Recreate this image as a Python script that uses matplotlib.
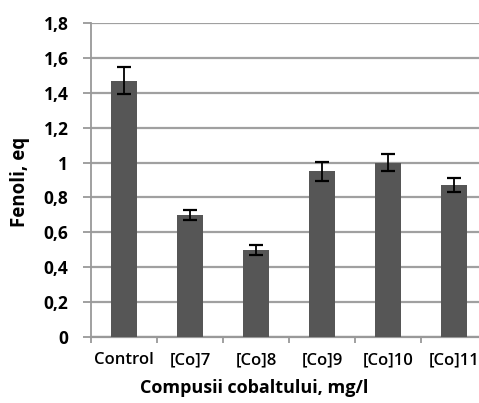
import matplotlib.pyplot as plt
import numpy as np

categories = ['Control', '[Co]7', '[Co]8', '[Co]9', '[Co]10', '[Co]11']
values = [1.47, 0.70, 0.50, 0.95, 1.00, 0.87]
errors = [0.075, 0.03, 0.03, 0.055, 0.05, 0.04]
yticks = [0, 0.2, 0.4, 0.6, 0.8, 1.0, 1.2, 1.4, 1.6, 1.8]
ytick_labels = ['0', '0,2', '0,4', '0,6', '0,8', '1', '1,2', '1,4', '1,6', '1,8']

plt.rcParams['font.family'] = ['Open Sans', 'DejaVu Sans']

fig = plt.figure(figsize=(4.79, 4.03), dpi=100)
ax = fig.add_axes([91 / 479, 66 / 403, 396 / 479, 314 / 403])

x = np.arange(len(categories))
ax.bar(x, values, width=0.38, color='#565656', zorder=3)
ax.errorbar(x, values, yerr=errors, fmt='none', ecolor='black',
            elinewidth=1.3, capsize=4.8, capthick=1.6, zorder=4)

ax.set_xlim(-0.5, len(categories) - 0.5)
ax.set_ylim(0, 1.8)
ax.set_yticks(yticks)
ax.set_yticklabels(ytick_labels, fontsize=12.5, fontweight='bold')
ax.set_xticks(x)
ax.set_xticklabels(categories, fontsize=12, fontweight='semibold')
ax.set_xticks(np.arange(len(categories) + 1) - 0.5, minor=True)
ax.tick_params(axis='x', which='major', length=0, pad=11)
ax.tick_params(axis='x', which='minor', length=4.5, width=1.3, color='#999999', direction='out')
ax.tick_params(axis='y', length=5.8, width=1.3, color='#999999', pad=10.5)

ax.grid(axis='y', color='#a0a0a0', linewidth=1.6, zorder=0)
for side in ['top', 'right']:
    ax.spines[side].set_visible(False)
ax.spines['left'].set_color('#999999')
ax.spines['left'].set_linewidth(1.3)
ax.spines['bottom'].set_color('#999999')
ax.spines['bottom'].set_linewidth(1.6)

fig.text(254 / 479, 1 - 388 / 403, 'Compusii cobaltului, mg/l', fontsize=13,
         fontweight='bold', ha='center', va='center')
fig.text(20 / 479, 1 - 182 / 403, 'Fenoli, eq', fontsize=13.5,
         fontweight='bold', ha='center', va='center', rotation=90)

fig.savefig('out.png', dpi=100)
